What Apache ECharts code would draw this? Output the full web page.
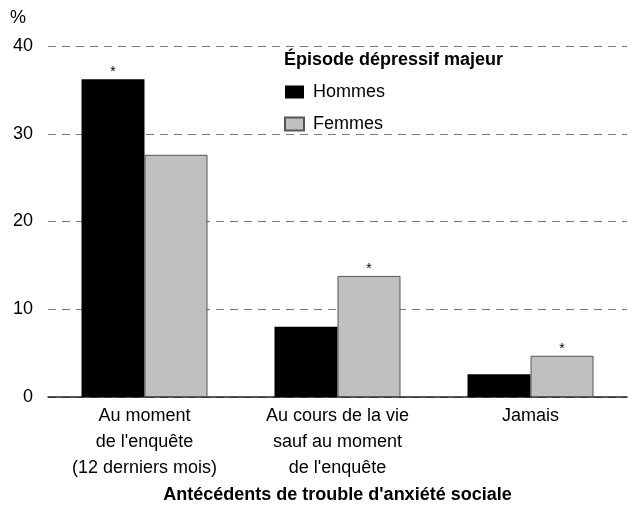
<!DOCTYPE html>
<html>
<head>
<meta charset="utf-8">
<script src="https://cdn.jsdelivr.net/npm/echarts@6/dist/echarts.min.js"></script>
<style>html,body{margin:0;padding:0;background:#fff}#c{width:628px;height:516px}</style>
</head>
<body>
<div id="c"></div>
<script>
const categories = ["Au moment\nde l'enquête\n(12 derniers mois)", "Au cours de la vie\nsauf au moment\nde l'enquête", "Jamais"];
const hommes = [36.2, 8.0, 2.6];
const femmes = [27.6, 13.8, 4.7];
const hommesStar = [true, false, false];
const femmesStar = [false, true, true];
const yTicks = [0, 10, 20, 30, 40];

const FONT = '"Liberation Sans", Arial, sans-serif';
const starLabel = {show: true, position: 'top', distance: 0, formatter: '*', fontSize: 14, color: '#000', fontFamily: FONT};

const chart = echarts.init(document.getElementById('c'), null, {renderer: 'canvas'});
chart.setOption({
  animation: false,
  backgroundColor: '#fff',
  textStyle: {fontFamily: FONT},
  title: [
    {text: '%', left: 10, top: 9, padding: 0, textStyle: {fontSize: 18, fontWeight: 'normal', color: '#000', fontFamily: FONT}},
    {text: 'Épisode dépressif majeur', left: 284, top: 51, padding: 0, textStyle: {fontSize: 18, fontWeight: 'bold', color: '#000', fontFamily: FONT}}
  ],
  legend: {
    left: 284, top: 82, orient: 'vertical', padding: 0,
    itemWidth: 19, itemHeight: 13, itemGap: 12, icon: 'rect',
    textStyle: {fontSize: 18, color: '#000', fontFamily: FONT, lineHeight: 20, padding: [0, 0, 0, 4]},
    data: ['Hommes', 'Femmes']
  },
  grid: {left: 48, right: 1, top: 46, bottom: 119, containLabel: false},
  xAxis: {
    type: 'category', data: categories,
    axisLine: {show: true, lineStyle: {color: '#222', width: 1.5}},
    axisTick: {show: false},
    axisLabel: {fontSize: 18, color: '#000', lineHeight: 26, margin: 6, fontFamily: FONT, interval: 0},
    name: "Antécédents de trouble d'anxiété sociale",
    nameLocation: 'middle', nameGap: 85,
    nameTextStyle: {fontSize: 18, fontWeight: 'bold', color: '#000', fontFamily: FONT}
  },
  yAxis: {
    type: 'value', min: yTicks[0], max: yTicks[yTicks.length - 1], interval: 10,
    axisLine: {show: false}, axisTick: {show: false},
    axisLabel: {fontSize: 18, color: '#000', margin: 15, fontFamily: FONT},
    splitLine: {show: true, lineStyle: {color: '#7a7a7a', type: [8, 6], width: 1.2}}
  },
  series: [
    {
      name: 'Hommes', type: 'bar', barWidth: 63, barGap: '0%',
      itemStyle: {color: '#000'},
      data: hommes.map((v, i) => hommesStar[i] ? {value: v, label: starLabel} : v)
    },
    {
      name: 'Femmes', type: 'bar', barWidth: 63, barGap: '0%',
      itemStyle: {color: '#c0c0c0', borderColor: '#555', borderWidth: 1},
      data: femmes.map((v, i) => femmesStar[i] ? {value: v, label: starLabel} : v)
    }
  ]
});
</script>
</body>
</html>
